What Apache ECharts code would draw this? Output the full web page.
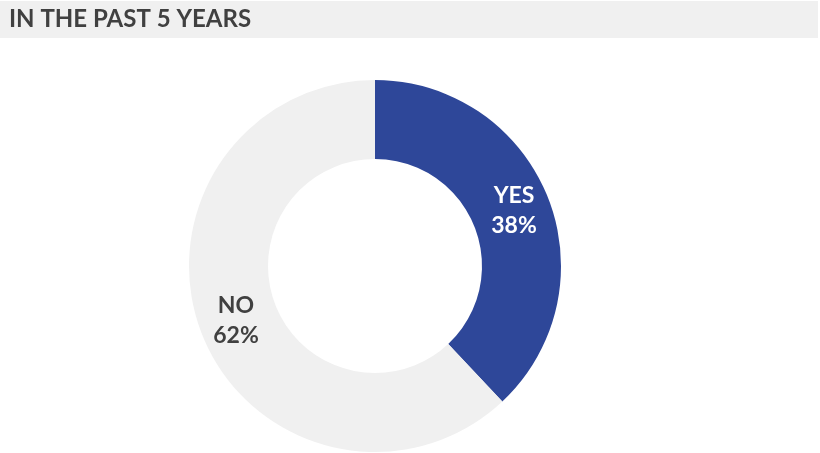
<!DOCTYPE html>
<html>
<head>
<meta charset="utf-8">
<script src="https://cdn.jsdelivr.net/npm/echarts@6/dist/echarts.min.js"></script>
<style>
  html, body { margin: 0; padding: 0; background: #ffffff; }
  #chart { width: 820px; height: 453px; }
</style>
</head>
<body>
<div id="chart"></div>
<script>
// Survey answers shown in the donut
const titleText = 'IN THE PAST 5 YEARS';
const categories = ['YES', 'NO'];
const values = [38, 62];
const sliceColors = ['#2E4799', '#F0F0F0'];
const labelColors = ['#FFFFFF', '#404040'];

const chart = echarts.init(document.getElementById('chart'), null, { renderer: 'canvas' });

const data = categories.map((name, i) => ({
  name: name,
  value: values[i],
  itemStyle: { color: sliceColors[i] },
  label: { color: labelColors[i] }
}));

chart.setOption({
  backgroundColor: '#ffffff',
  animation: false,
  graphic: [
    {
      type: 'rect',
      shape: { x: 0, y: 1, width: 818, height: 37 },
      style: { fill: '#F0F0F0' },
      silent: true
    },
    {
      type: 'text',
      left: 9,
      top: 7,
      style: {
        text: titleText,
        fill: '#404040',
        font: 'bold 24px Lato, "DejaVu Sans", sans-serif'
      },
      silent: true
    }
  ],
  series: [
    {
      type: 'pie',
      center: [375, 266],
      radius: [107, 186],
      startAngle: 90,
      clockwise: true,
      silent: true,
      label: {
        show: true,
        position: 'inside',
        formatter: p => p.name + '\n' + p.value + '%',
        fontFamily: 'Lato, "DejaVu Sans", sans-serif',
        fontWeight: 'bold',
        fontSize: 23,
        lineHeight: 30,
        align: 'center'
      },
      labelLine: { show: false },
      data: data
    }
  ]
});
</script>
</body>
</html>
